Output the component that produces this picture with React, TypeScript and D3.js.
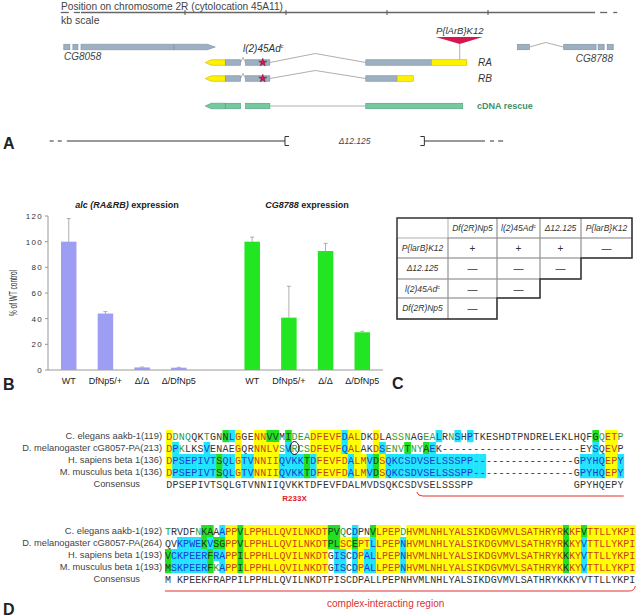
import React from 'react';
import * as d3 from 'd3';

const W = 640;
const H = 616;
const SANS = '"Liberation Sans", Arial, sans-serif';
const MONO = '"Liberation Mono", "Courier New", monospace';

// ---- panel A, positions in kb from the first scale tick
const scaleTicks = [0, 1, 2, 3];
const scaleSolid = [-1.03, 4.06];
const scaleDashes = [[-1.23, -1.15], [-1.10, -1.04], [4.11, 4.18], [4.24, 4.28]];
const cg8058Exons = [[-1.20, -1.14], [-1.11, -1.06]];
const cg8058Last = [-1.03, 0.22, 0.30];
const cg8058Split = -0.11;
const cg8788Exons = [[3.29, 3.41], [3.75, 4.07], [4.09, 4.15], [4.18, 4.24]];
const cg8788Intron = [3.41, 3.57, 3.75];
const utr5 = [0.20, 0.40];
const raExons = [[0.40, 0.55], [0.60, 0.84], [1.79, 2.44]];
const raUtr3 = [2.44, 2.79];
const rbExons = [[0.40, 0.55], [0.60, 0.84], [1.79, 2.10]];
const rbUtr3 = [2.10, 2.26];
const cdnaExons = [[0.40, 0.55], [0.60, 0.84], [1.79, 2.75]];
const smallIntron = [0.55, 0.575, 0.60];
const bigIntron = [0.84, 1.29, 1.79];
const alleleMark = 0.77;
const pInsert = 2.72;
const delDashesL = [[-1.34, -1.30], [-1.26, -1.22]];
const delSolidL = [-1.17, 0.99];
const delSolidR = [2.37, 2.97];
const delDashesR = [[3.02, 3.06], [3.10, 3.15]];
const delLabelAt = 1.68;

// ---- panel B
const genotypes = ['WT', 'DfNp5/+', 'Δ/Δ', 'Δ/DfNp5'];
const alcMeans = [100, 44, 2, 1.8];
const alcErr = [18, 1.5, 0.3, 0.3];
const cgMeans = [100, 40.8, 92.7, 29.4];
const cgErr = [3.5, 24.5, 6, 0.8];
const yTicks = [0, 20, 40, 60, 80, 100, 120];

// ---- panel C
const colHeads = ['Df(2R)Np5', 'l(2)45Ad', 'Δ12.125', 'P{larB}K12'];
const rowHeads = ['P{larB}K12', 'Δ12.125', 'l(2)45Ad', 'Df(2R)Np5'];
const complementation = [['+', '+', '+', '—'], ['—', '—', '—'], ['—', '—'], ['—']];

// ---- panel D
const seqNames1 = ['C. elegans aakb-1(119)', 'D. melanogaster cG8057-PA(213)', 'H. sapiens beta 1(136)', 'M. musculus beta 1(136)'];
const seqs1 = [
  'DDNQQKTGNNLGGENNVVMIDEADFEVFDALDKDLASSNAGEALRNSHPTKESHDTPNDRELEKLHQFGQETP',
  'DPKLKSVENAEGQRNNLVSVRCSDFEVFQALAKDSENVTNYAEK----------------------EYSQEVP',
  'DPSEPIVTSQLGTVNNIIQVKKTDFEVFDALMVDSQKCSDVSELSSSPP----------------GPYHQEPY',
  'DPSEPIVTSQLGTVNNIIQVKKTDFEVFDALMVDSQKCSDVSELSSSPP----------------GPYHQEPY',
];
const shade1 = [
  'ywwwnnwnngcynnyyggngwwwyyyyycyynnynnwwwnnwwcnwcncnnnnnnnnnnnnnnnnnnngwyywn',
  'ycwnnncnnnnynnyyyywcwwwyyyyycyynnycwwwgwwgcnnnnnnnnnnnnnnnnnnnnnnnnncnyynn',
  'ycccccccgccyccyyyyccccgcyyyyycyycgyccccccccccccccccnnnnnnnnnnnnnnnccccyycg',
  'ycccccccgccyccyyyyccccgcyyyyycyycgyccccccccccccccccnnnnnnnnnnnnnnnccccyycg',
];
const consensus1 = 'DPSEPIVTSQLGTVNNIIQVKKTDFEVFDALMVDSQKCSDVSELSSSPP                GPYHQEPY';
const seqNames2 = ['C. elegans aakb-1(192)', 'D. melanogaster cG8057-PA(264)', 'H. sapiens beta 1(193)', 'M. musculus beta 1(193)'];
const seqs2 = [
  'TRVDFNKAAAPPVLPPHLLQVILNKDTPVQCDPNVLPEPDHVMLNHLYALSIKDGVMVLSATHRYRKKFVTTLLYKPI',
  'QVKPWEKVSGPPVLPPHLLQVILNKDTPLSCEPTLLPEPNHVMLNHLYALSIKDGVMVLSATHRYRKKYVTTLLYKPI',
  'VCKPEERFRAPPILPPHLLQVILNKDTGISCDPALLPEPNHVMLNHLYALSIKDGVMVLSATHRYKKKYVTTLLYKPI',
  'MSKPEERFKAPPILPPHLLQVILNKDTGISCDPALLPEPNHVMLNHLYALSIKDGVMVLSATHRYKKKYVTTLLYKPI',
];
const shade2 = [
  'wnnnnwggncyygyyyyyyyyyyyyyyggwncnngyyyywyyyyyyyyyyyyyyyyyyyyyyyyyygyygyyyyyyyyy',
  'nnccccgcggyygyyyyyyyyyyyyyyggyygyycyyyycyyyyyyyyyyyyyyyyyyyyyyyyyygyycyyyyyyyyy',
  'gccccccgccyygyyyyyyyyyyyyyynccncyccyyyycyyyyyyyyyyyyyyyyyyyyyyyyyygyycyyyyyyyyy',
  'gccccccgwcyygyyyyyyyyyyyyyynccncyccyyyycyyyyyyyyyyyyyyyyyyyyyyyyyygyycyyyyyyyyy',
];
const consensus2 = 'M KPEEKFRAPPILPPHLLQVILNKDTPISCDPALLPEPNHVMLNHLYALSIKDGVMVLSATHRYKKKYVTTLLYKPI';

const shadeBg: Record<string, string> = { y: '#ffff00', c: '#22e4ff', g: '#22e022' };
const shadeFg: Record<string, string> = { y: '#c8401e', c: '#1a3ccc', g: '#1d3a1d', w: '#2f9a3a', n: '#333' };

const GRAY = '#9cb0c2';
const GRAY_S = '#7a8ea0';
const YEL = '#fff200';
const YEL_S = '#c8b400';
const TEAL = '#74c9a0';
const TEAL_S = '#4f9e7a';
const BH = 5.5;

export default function App() {
  const xA = d3.scaleLinear().domain([0, 3]).range([185, 488]);

  const exon = (se: number[], yc: number, fill: string, stroke: string, key: string) => (
    <rect key={key} x={xA(se[0])} y={yc - BH / 2} width={xA(se[1]) - xA(se[0])} height={BH}
      fill={fill} stroke={stroke} strokeWidth={0.6} />
  );
  const leftArrow = (se: number[], yc: number, fill: string, stroke: string) => {
    const x0 = xA(se[0]), x1 = xA(se[1]);
    const pts = [[x1, yc - BH / 2], [x0 + 6, yc - BH / 2], [x0, yc], [x0 + 6, yc + BH / 2], [x1, yc + BH / 2]];
    return <polygon points={pts.map(p => p.join(',')).join(' ')} fill={fill} stroke={stroke} strokeWidth={0.6} />;
  };
  const caret = (t: number[], yc: number, h: number, key: string) => (
    <polyline key={key} points={`${xA(t[0])},${yc} ${xA(t[1])},${yc - h} ${xA(t[2])},${yc}`}
      fill="none" stroke="#999" strokeWidth={0.8} />
  );
  const star = d3.symbol(d3.symbolStar, 20)() as string;

  const transcript = (yc: number, exons: number[][], utr3: number[], peak: number, label: string) => (
    <g>
      {leftArrow(utr5, yc, YEL, YEL_S)}
      {caret(smallIntron, yc, 5, 'i1')}
      {caret(bigIntron, yc, peak, 'i2')}
      {exons.map((e, i) => exon(e, yc, GRAY, GRAY_S, 'e' + i))}
      {exon(utr3, yc, YEL, YEL_S, 'u3')}
      <path d={star} transform={`translate(${xA(alleleMark)},${yc})`} fill="#d0164a" stroke="#7a0c2a" strokeWidth={0.5} />
      <text x={478} y={yc + 3.5} fontSize={10} fontStyle="italic" fill="#333">{label}</text>
    </g>
  );

  // panel B scales
  const slots = [...genotypes.map(g => 'alc ' + g), 'gap', ...genotypes.map(g => 'cg ' + g)];
  const xb = d3.scaleBand<string>().domain(slots).range([48, 383]).paddingInner(0.578).paddingOuter(0.354);
  const yb = d3.scaleLinear().domain([0, 120]).range([370, 216]);
  const barSeries = [
    { key: 'alc', means: alcMeans, err: alcErr, color: '#9d9df3' },
    { key: 'cg', means: cgMeans, err: cgErr, color: '#22e622' },
  ];

  // panel C layout
  const colEdges = [397, 448, 497, 540, 581, 632];
  const rowEdges = [218, 238, 258, 279, 298, 319];

  const supC = (s: string) => s === 'l(2)45Ad'
    ? <>{s}<tspan fontSize={5.5} dy={-3.5}>c</tspan></>
    : s;

  const alignBlock = (names: string[], seqs: string[], shade: string[], cons: string, x0: number, step: number, y0: number, key: string) => {
    const n = cons.length;
    const xs = d3.scaleBand<number>().domain(d3.range(n)).range([x0, x0 + n * step]);
    const ys = d3.scalePoint<number>().domain(d3.range(5)).range([y0, y0 + 48]);
    return (
      <g key={key}>
        {seqs.map((s, r) => (
          <g key={r}>
            {s.split('').map((ch, i) => {
              const c = shade[r][i];
              return shadeBg[c]
                ? <rect key={i} x={xs(i)} y={(ys(r) as number) - 6} width={step + 0.4} height={12.2} fill={shadeBg[c]} />
                : null;
            })}
            {s.split('').map((ch, i) => (
              <text key={'t' + i} x={(xs(i) as number) + step / 2} y={(ys(r) as number) + 3.6} textAnchor="middle"
                fontFamily={MONO} fontSize={10} fill={shadeFg[shade[r][i]]}>{ch}</text>
            ))}
            <text x={162} y={(ys(r) as number) + 3.2} textAnchor="end" fontSize={9.3} fill="#444">{names[r]}</text>
          </g>
        ))}
        {cons.split('').map((ch, i) => (
          <text key={'c' + i} x={(xs(i) as number) + step / 2} y={(ys(4) as number) + 3.6} textAnchor="middle"
            fontFamily={MONO} fontSize={10} fill="#333">{ch}</text>
        ))}
        <text x={140} y={(ys(4) as number) + 3.2} textAnchor="end" fontSize={9.3} fill="#444">Consensus</text>
      </g>
    );
  };

  const x1 = d3.scaleBand<number>().domain(d3.range(consensus1.length)).range([166, 166 + consensus1.length * 6.27]);
  const x2 = d3.scaleBand<number>().domain(d3.range(consensus2.length)).range([165, 165 + consensus2.length * 6.03]);
  const mutCol = 20;

  return (
    <svg width={W} height={H} style={{ position: 'absolute', left: 0, top: 0, background: '#fff' }} fontFamily={SANS}>
      {/* ---------- A ---------- */}
      <text x={61} y={9.5} fontSize={10.5} textLength={222} lengthAdjust="spacingAndGlyphs" fill="#444">Position on chromosome 2R (cytolocation 45A11)</text>
      <line x1={xA(scaleSolid[0])} x2={xA(scaleSolid[1])} y1={12.5} y2={12.5} stroke="#666" strokeWidth={1.3} />
      {scaleDashes.map((d, i) => (
        <line key={i} x1={xA(d[0])} x2={xA(d[1])} y1={12.5} y2={12.5} stroke="#666" strokeWidth={1.3} />
      ))}
      {scaleTicks.map(t => (
        <line key={t} x1={xA(t)} x2={xA(t)} y1={10} y2={15} stroke="#555" strokeWidth={1} />
      ))}
      <text x={61} y={23.5} fontSize={10.5} fill="#444">kb scale</text>

      {cg8058Exons.map((e, i) => exon(e, 47, GRAY, GRAY_S, 'g' + i))}
      <polygon
        points={[[xA(cg8058Last[0]), 47 - BH / 2], [xA(cg8058Last[1]), 47 - BH / 2], [xA(cg8058Last[2]), 47],
          [xA(cg8058Last[1]), 47 + BH / 2], [xA(cg8058Last[0]), 47 + BH / 2]].map(p => p.join(',')).join(' ')}
        fill={GRAY} stroke={GRAY_S} strokeWidth={0.6} />
      <line x1={xA(cg8058Split)} x2={xA(cg8058Split)} y1={47 - BH / 2} y2={47 + BH / 2} stroke={GRAY_S} strokeWidth={0.7} />
      <text x={64} y={60} fontSize={10} fontStyle="italic" fill="#444">CG8058</text>

      <text x={243} y={52} fontSize={10} fontStyle="italic" fill="#333">l(2)45Ad<tspan fontSize={5.5} dy={-4}>c</tspan></text>

      <text x={xA(pInsert)} y={34} fontSize={9.5} fontStyle="italic" textAnchor="middle" fill="#333">P{'{'}lArB{'}'}K12</text>
      <polygon points={`${xA(pInsert) - 24},37 ${xA(pInsert) + 23},37 ${xA(pInsert)},44`} fill="#d6174f" />
      <line x1={xA(pInsert)} x2={xA(pInsert)} y1={44} y2={59.5} stroke="#999" strokeWidth={0.8} />

      {transcript(62.5, raExons, raUtr3, 9, 'RA')}
      {transcript(78.5, rbExons, rbUtr3, 8, 'RB')}

      <g>
        {leftArrow(utr5, 106, TEAL, TEAL_S)}
        <line x1={xA(bigIntron[0])} x2={xA(bigIntron[2])} y1={106} y2={106} stroke="#999" strokeWidth={0.8} />
        {cdnaExons.map((e, i) => exon(e, 106, TEAL, TEAL_S, 'c' + i))}
        <text x={477} y={109} fontSize={9} fontWeight="bold" fill="#3f8f6a">cDNA rescue</text>
      </g>

      {caret(cg8788Intron, 47, 4.5, 'cgi')}
      {cg8788Exons.map((e, i) => exon(e, 47, GRAY, GRAY_S, 'h' + i))}
      <text x={613} y={62} fontSize={10} fontStyle="italic" textAnchor="end" fill="#444">CG8788</text>

      {[...delDashesL, delSolidL, delSolidR, ...delDashesR].map((d, i) => (
        <line key={i} x1={xA(d[0])} x2={xA(d[1])} y1={141} y2={141} stroke="#333" strokeWidth={1} />
      ))}
      <path d={`M${xA(delSolidL[1]) + 4},136.5 H${xA(delSolidL[1])} V145.5 H${xA(delSolidL[1]) + 4}`} fill="none" stroke="#333" strokeWidth={1} />
      <path d={`M${xA(delSolidR[0]) - 4},136.5 H${xA(delSolidR[0])} V145.5 H${xA(delSolidR[0]) - 4}`} fill="none" stroke="#333" strokeWidth={1} />
      <text x={xA(delLabelAt)} y={144} fontSize={8.5} fontStyle="italic" textAnchor="middle" fill="#444">Δ12.125</text>
      <text x={3} y={149} fontSize={16} fontWeight="bold" fill="#222">A</text>

      {/* ---------- B ---------- */}
      <text x={127} y={208} fontSize={9} fontWeight="bold" textAnchor="middle" fill="#222">
        <tspan fontStyle="italic">alc (RA&amp;RB)</tspan> expression
      </text>
      <text x={307} y={208} fontSize={9} fontWeight="bold" textAnchor="middle" fill="#222">
        <tspan fontStyle="italic">CG8788</tspan> expression
      </text>
      <line x1={48} x2={48} y1={yb(120)} y2={yb(0)} stroke="#999" strokeWidth={1} />
      <line x1={48} x2={383} y1={yb(0)} y2={yb(0)} stroke="#999" strokeWidth={1} />
      {yTicks.map(t => (
        <g key={t}>
          <line x1={45} x2={48} y1={yb(t)} y2={yb(t)} stroke="#999" strokeWidth={1} />
          <text x={43} y={yb(t) + 3} fontSize={8} letterSpacing={1.3} textAnchor="end" fill="#333">{t}</text>
        </g>
      ))}
      <text transform="translate(17,293) rotate(-90)" fontSize={11} textAnchor="middle" textLength={46}
        lengthAdjust="spacingAndGlyphs" fill="#333">% of WT control</text>
      {barSeries.map(s => s.means.map((m, i) => {
        const k = s.key + ' ' + genotypes[i];
        const bx = xb(k) as number;
        const cx = bx + xb.bandwidth() / 2;
        return (
          <g key={k}>
            <line x1={cx} x2={cx} y1={yb(m)} y2={yb(m + s.err[i])} stroke="#999" strokeWidth={0.8} />
            <line x1={cx - 2} x2={cx + 2} y1={yb(m + s.err[i])} y2={yb(m + s.err[i])} stroke="#999" strokeWidth={0.8} />
            <rect x={bx} y={yb(m)} width={xb.bandwidth()} height={yb(0) - yb(m)} fill={s.color} />
            <text x={cx} y={384} fontSize={9} textAnchor="middle" fill="#222">{genotypes[i]}</text>
          </g>
        );
      }))}
      <text x={3} y={390} fontSize={16} fontWeight="bold" fill="#222">B</text>

      {/* ---------- C ---------- */}
      <g fontSize={8.5} fill="#333">
        {colHeads.map((c, j) => (
          <g key={'h' + j}>
            <rect x={colEdges[j + 1]} y={rowEdges[0]} width={colEdges[j + 2] - colEdges[j + 1]} height={rowEdges[1] - rowEdges[0]}
              fill="none" stroke="#999" strokeWidth={0.8} />
            <text x={(colEdges[j + 1] + colEdges[j + 2]) / 2} y={rowEdges[0] + 13} textAnchor="middle" fontStyle="italic">{supC(c)}</text>
          </g>
        ))}
        {rowHeads.map((r, i) => (
          <g key={'r' + i}>
            <rect x={colEdges[0]} y={rowEdges[i + 1]} width={colEdges[1] - colEdges[0]} height={rowEdges[i + 2] - rowEdges[i + 1]}
              fill="none" stroke="#999" strokeWidth={0.8} />
            <text x={(colEdges[0] + colEdges[1]) / 2} y={rowEdges[i + 1] + 13} textAnchor="middle" fontStyle="italic">{supC(r)}</text>
            {complementation[i].map((v, j) => (
              <g key={j}>
                <rect x={colEdges[j + 1]} y={rowEdges[i + 1]} width={colEdges[j + 2] - colEdges[j + 1]}
                  height={rowEdges[i + 2] - rowEdges[i + 1]} fill="none" stroke="#999" strokeWidth={0.8} />
                <text x={(colEdges[j + 1] + colEdges[j + 2]) / 2} y={rowEdges[i + 1] + 13.5} textAnchor="middle" fontSize={10}>{v}</text>
              </g>
            ))}
          </g>
        ))}
        <path d={`M${colEdges[0]},${rowEdges[0]} H${colEdges[5]} V${rowEdges[2]} H${colEdges[4]} V${rowEdges[3]} H${colEdges[3]} V${rowEdges[4]} H${colEdges[2]} V${rowEdges[5]} H${colEdges[0]} Z`}
          fill="none" stroke="#333" strokeWidth={1.5} />
      </g>
      <text x={392} y={389} fontSize={16} fontWeight="bold" fill="#222">C</text>

      {/* ---------- D ---------- */}
      {alignBlock(seqNames1, seqs1, shade1, consensus1, 166, 6.27, 436, 'b1')}
      <ellipse cx={(x1(mutCol) as number) + 3.1} cy={448} rx={4.5} ry={6.5} fill="none" stroke="#111" strokeWidth={1} />
      <text x={(x1(mutCol) as number) + 3.1} y={501} fontSize={8} fontWeight="bold" textAnchor="middle" fill="#e0202a">R233X</text>
      <path d={`M${x1(40)},492 Q${(x1(40) as number) + 1},496 ${(x1(40) as number) + 6},496 H${x1.range()[1]}`}
        fill="none" stroke="#e03030" strokeWidth={1} />

      {alignBlock(seqNames2, seqs2, shade2, consensus2, 165, 6.03, 531, 'b2')}
      <path d={`M${x2(0)},591 H${x2.range()[1] - 6} Q${x2.range()[1] - 1},591 ${x2.range()[1]},586`}
        fill="none" stroke="#e03030" strokeWidth={1} />
      <text x={327} y={607} fontSize={10} fill="#e03030">complex-interacting region</text>
      <text x={3} y={615} fontSize={16} fontWeight="bold" fill="#222">D</text>
    </svg>
  );
}
